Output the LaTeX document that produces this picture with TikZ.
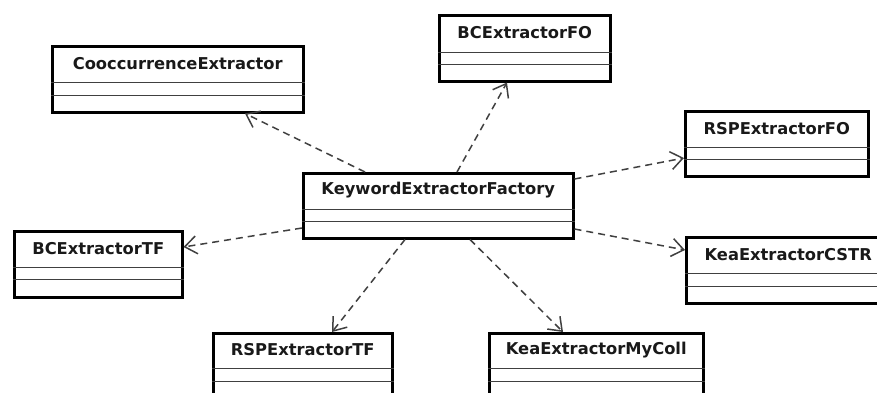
\documentclass[tikz,border=0pt]{standalone}
\usepackage{fontspec}
\setmainfont{DejaVu Sans}
\usetikzlibrary{arrows.meta,calc}
\tikzset{
  classbox/.style={draw=black, line width=2.5pt, rectangle, inner sep=0pt, anchor=north west, fill=white},
  classtitle/.style={font=\fontsize{16.3}{18}\selectfont\bfseries, inner sep=0pt, text=black!90},
  divider/.style={line width=1pt, black!75},
  dep/.style={draw=black!75, line width=1.5pt, dash pattern=on 7pt off 5pt,
    -{Straight Barb[length=12pt,width=18pt,line width=1.5pt]}}
}
% name, x, y, width, height, divider1, divider2, text
\newcommand\umlclass[8]{%
  \node[classbox, minimum width=#4pt, minimum height=#5pt] (#1) at (#2,#3) {};
  \draw[divider] ($(#1.north west)+(0,#6)$) -- ($(#1.north east)+(0,#6)$);
  \draw[divider] ($(#1.north west)+(0,#7)$) -- ($(#1.north east)+(0,#7)$);
  \node[classtitle] (#1-t) at ($(#1.north)+(0,{#6/2})$) {#8};
}
\begin{document}
\begin{tikzpicture}[x=1pt,y=-1pt]
  \useasboundingbox (0,0) rectangle (877,392);
  \clip (0,0) rectangle (877,392);
  \fill[white] (0,0) rectangle (877,392);

  \umlclass{coo}{51}{45}{251}{66}{37}{50}{CooccurrenceExtractor}
  \umlclass{bcfo}{438}{14}{171}{66}{38}{50}{BCExtractorFO}
  \umlclass{rspfo}{684}{110}{183}{65}{37}{49}{RSPExtractorFO}
  \umlclass{kw}{302}{172}{270}{65}{37}{49}{KeywordExtractorFactory}
  \umlclass{bctf}{13}{230}{168}{66}{37}{49}{BCExtractorTF}
  \umlclass{rsptf}{212}{332}{179}{80}{36}{49}{RSPExtractorTF}
  \umlclass{keacstr}{685}{236}{204}{66}{37}{50}{KeaExtractorCSTR}
  \umlclass{keamyc}{488}{332}{214}{80}{36}{49}{KeaExtractorMyColl}

  \draw[dep] ($(kw.north west)+(63,0)$) -- ($(coo.south west)+(194,0)$);
  \draw[dep] ($(kw.north west)+(155,0)$) -- ($(bcfo.south west)+(69,0)$);
  \draw[dep] ($(kw.north east)+(0,7)$) -- ($(rspfo.north west)+(0,48)$);
  \draw[dep] ($(kw.north west)+(0,56)$) -- ($(bctf.north east)+(0,17)$);
  \draw[dep] ($(kw.north east)+(0,57)$) -- ($(keacstr.north west)+(0,14)$);
  \draw[dep] ($(kw.south west)+(103,0)$) -- ($(rsptf.north west)+(120,0)$);
  \draw[dep] ($(kw.south west)+(168,0)$) -- ($(keamyc.north west)+(75,0)$);
\end{tikzpicture}
\end{document}
